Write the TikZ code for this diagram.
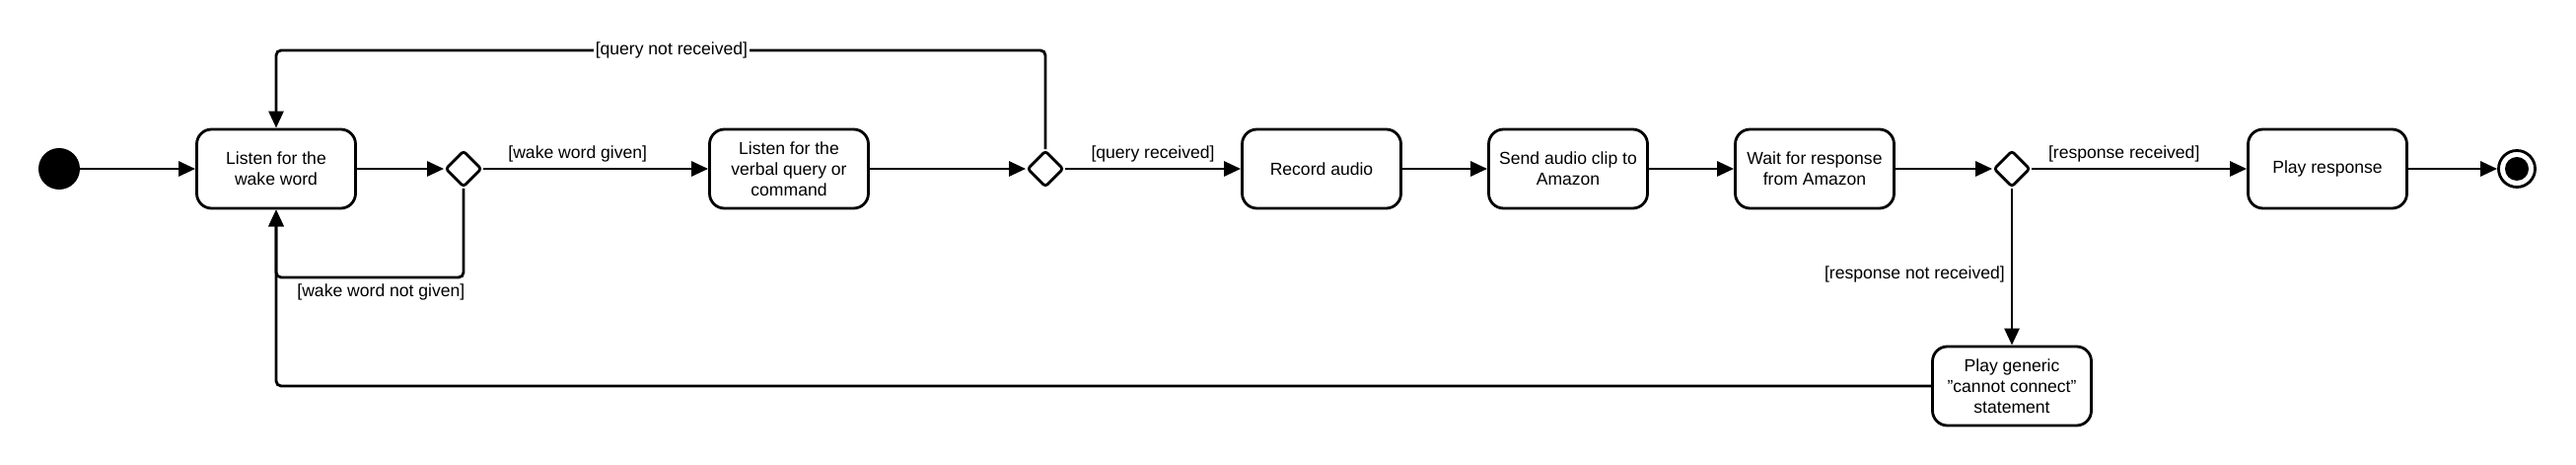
\documentclass[tikz,border=0pt]{standalone}
\usepackage{fontspec}
\setmainfont{Liberation Sans}
\usepackage{tikz}
\usetikzlibrary{shapes.geometric, arrows.meta, positioning}
\tikzset{
  action/.style={rectangle, draw=black, fill=white, align=center,
    minimum width=3.22cm, minimum height=1.6cm, rounded corners=0.3cm,
    font=\fontsize{10}{12}\selectfont, line width=1.6pt},
  decision/.style={diamond, draw=black, fill=white, minimum size=0.74cm,
    inner sep=0pt, rounded corners=0.06cm, line width=1.6pt},
  arrow/.style={-{Triangle[length=0.34cm, width=0.3cm]}, line width=1.6pt,
    rounded corners=0.1cm},
  guard/.style={font=\fontsize{10}{12}\selectfont}
}

\begin{document}
\begin{tikzpicture}
  \useasboundingbox (0,0) rectangle (52.24,9.42);

  % Start and end
  \node[circle, fill=black, minimum size=0.84cm, inner sep=0pt] (start) at (1.2, 6) {};
  \node[circle, draw=black, fill=white, minimum size=0.74cm, inner sep=0pt, line width=1.6pt] (finish) at (51.04, 6) {};
  \fill[black] (finish.center) circle (0.24cm);

  % Main row
  \node[action] (listen) at (5.6, 6) {Listen for the\\wake word};
  \node[decision] (wake) at (9.4, 6) {};
  \node[action] (query) at (16.0, 6) {Listen for the\\verbal query or\\command};
  \node[decision] (heard) at (21.2, 6) {};
  \node[action] (record) at (26.8, 6) {Record audio};
  \node[action] (send) at (31.8, 6) {Send audio clip to\\Amazon};
  \node[action] (wait) at (36.8, 6) {Wait for response\\from Amazon};
  \node[decision] (reply) at (40.8, 6) {};
  \node[action] (play) at (47.2, 6) {Play response};
  \node[action] (generic) at (40.8, 1.6) {Play generic\\"cannot connect"\\statement};

  % Bend points
  \coordinate (wakebend) at (5.6, 3.8);
  \coordinate (querybend) at (5.6, 8.4);
  \coordinate (retrybend) at (5.6, 1.6);

  % Flow arrows
  \draw[arrow] (start) -- (listen);
  \draw[arrow] (listen) -- (wake);
  \draw[arrow] (wake) -- node[guard, above, pos=0.42] {[wake word given]} (query);
  \draw[arrow] (query) -- (heard);
  \draw[arrow] (heard) -- node[guard, above] {[query received]} (record);
  \draw[arrow] (record) -- (send);
  \draw[arrow] (send) -- (wait);
  \draw[arrow] (wait) -- (reply);
  \draw[arrow] (reply) -- node[guard, above, pos=0.43] {[response received]} (play);
  \draw[arrow] (play) -- (finish);
  \draw[arrow] (reply) -- node[guard, left, pos=0.55] {[response not received]} (generic);

  % Loop backs
  \draw[arrow] (wake.south) |- node[guard, below, pos=0.72] {[wake word not given]} (wakebend) -- (listen.south);
  \draw[arrow] (heard.north) |- node[guard, fill=white, inner sep=1pt, pos=0.743] {[query not received]} (querybend) -- (listen.north);
  \draw[arrow] (generic.west) -- (retrybend) -- (listen.south);
\end{tikzpicture}
\end{document}
